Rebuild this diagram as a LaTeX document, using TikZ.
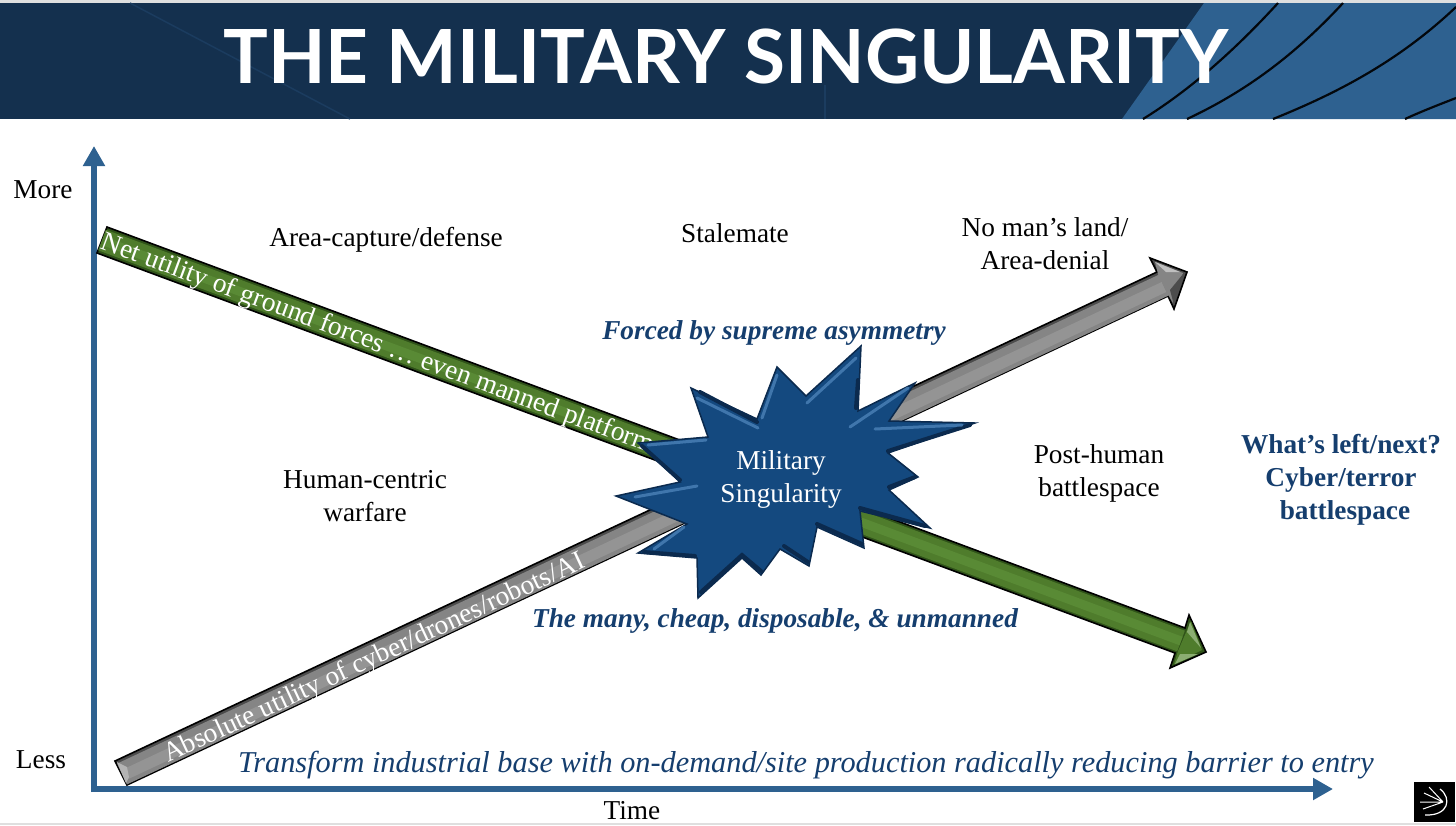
\documentclass[tikz,border=0pt]{standalone}
\usepackage{fontspec}
\setmainfont{Liberation Serif}
\newfontfamily\titlefont{Lato}
\usetikzlibrary{arrows.meta}
\definecolor{navy}{HTML}{14304E}
\definecolor{steel}{HTML}{2E6190}
\definecolor{inkblue}{HTML}{153E6E}
\definecolor{burst}{HTML}{14497F}
\definecolor{burstdark}{HTML}{0B2A4E}
\definecolor{burstlight}{HTML}{4F86BC}
\definecolor{leaf}{HTML}{4F7C2C}
\definecolor{leafdark}{HTML}{2F5219}
\definecolor{leaflight}{HTML}{598A35}
\definecolor{stone}{HTML}{858585}
\definecolor{stonedark}{HTML}{4C4C4C}
\definecolor{stonelight}{HTML}{949494}
\tikzstyle{axis} =[draw=steel, line width=6pt, -{Triangle[length=20pt,width=21pt]}]
\tikzstyle{plain} =[align=center, font=\fontsize{27.3}{33}\selectfont]
\tikzstyle{accent} =[align=center, text=inkblue, font=\fontsize{27.3}{33}\selectfont\bfseries\itshape]
\tikzstyle{onarrow} =[text=white, anchor=west, inner sep=0pt, font=\fontsize{27.4}{30}\selectfont]
\tikzstyle{arrowbody} =[draw=black, line width=1.6pt, line join=miter]
\tikzstyle{streak} =[draw=black!85!navy, line width=2.2pt]
\tikzstyle{spark} =[draw=burstlight, line width=3pt, line cap=round, opacity=.75]
\tikzstyle{shadowedge} =[draw=burstdark, line width=4pt, line cap=round]
\begin{document}
\begin{tikzpicture}[x=1pt, y=-1pt]
	\useasboundingbox (0,0) rectangle (1456,825);
	% banner
	\fill[gray!25] (0,0) rectangle (1456,3);
	\fill[gray!25] (0,823) rectangle (1456,825);
	\fill[navy] (0,3) rectangle (1456,119);
	\draw[navy!75!steel, line width=1.5pt] (130,3) -- (350,119);
	\draw[navy!75!steel, line width=1.5pt] (825,85) -- (825,119);
	\fill[steel] (1204,3) -- (1456,3) -- (1456,119) -- (1122,119) -- cycle;
	\draw[streak] (1278,3) .. controls (1235,50) and (1190,90) .. (1143,119);
	\draw[streak] (1343,3) .. controls (1295,55) and (1245,92) .. (1187,119);
	\draw[streak] (1456,7) .. controls (1400,60) and (1340,92) .. (1273,119);
	\draw[streak] (1456,98) .. controls (1438,105) and (1420,112) .. (1405,119);
	\node[text=white, font=\fontsize{74.7}{80}\selectfont\titlefont\bfseries] (title) at (726,56) {THE MILITARY SINGULARITY};
	% axes
	\coordinate (origin) at (95,789);
	\coordinate (yend) at (94,146);
	\coordinate (xend) at (1333,789);
	\draw[axis] (94,792) -- (yend);
	\draw[axis] (91,789) -- (xend);
	\node[plain] (more) at (43,190) {More};
	\node[plain] (less) at (41,760) {Less};
	\node[plain] (time) at (632,811) {Time};
	% grey arrow
	\filldraw[arrowbody, fill=stonedark] (115,761) -- (1157,272) -- (1150,258) -- (1187,272) -- (1174,309) -- (1168,296) -- (127,785) -- cycle;
	\draw[stone, line width=23pt] (122,774) -- (1164,285);
	\draw[stonelight, line width=11pt] (124,775) -- (1164,287);
	\fill[stone] (1155,262) -- (1183,273) -- (1173,303) -- (1166,291) -- (1158,274) -- cycle;
	\fill[stonelight!60!white] (1155,262) -- (1180,272) -- (1166,272) -- cycle;
	\fill[stonedark] (1183,274) -- (1174,305) -- (1170,290) -- cycle;
	\fill[stonelight!70!white] (117,762) -- (127,767) -- (129,777) -- (126,783) -- cycle;
	\node[onarrow, rotate=25.1] (graylabel) at (165,757) {Absolute utility of cyber/drones/robots/AI};
	% green arrow
	\filldraw[arrowbody, fill=leafdark] (107,227) -- (1185,628) -- (1189,615) -- (1206,652) -- (1170,668) -- (1175,653) -- (97,253) -- cycle;
	\draw[leaf, line width=22pt] (102,240) -- (1181,641);
	\draw[leaflight, line width=9pt] (104,241) -- (1181,641);
	\fill[leaf] (1191,621) -- (1202,650) -- (1174,664) -- (1178,651) -- (1187,630) -- cycle;
	\fill[leaflight!70!white] (1190,622) -- (1201,648) -- (1187,632) -- cycle;
	\fill[leaflight!70!white] (1175,664) -- (1198,654) -- (1180,654) -- cycle;
	\node[onarrow, rotate=-20.4] (greenlabel) at (102,242) {Net utility of ground forces \dots\ even manned platforms};
	% burst
	\filldraw[draw=burstdark, line width=1.5pt, fill=burst, line join=miter] (691,388) -- (757,419) -- (777,367) -- (806,396) -- (861,346) -- (858,411) -- (915,383) -- (889,421) -- (975,423) -- (888,453) -- (918,477) -- (889,490) -- (930,528) -- (860,511) -- (864,548) -- (817,527) -- (809,566) -- (780,549) -- (761,575) -- (742,558) -- (698,598) -- (697,558) -- (638,553) -- (687,524) -- (616,496) -- (680,482) -- (638,443) -- (708,437) -- cycle;
	\draw[shadowedge] (970,425) -- (888,451) (915,477) -- (889,487) (925,526) -- (860,508) (862,544) -- (817,524) (808,562) -- (784,546) (761,571) -- (742,555) -- (701,592) (695,556) -- (644,552) (858,380) -- (856,408) (700,392) -- (757,422) (642,446) -- (680,480);
	\draw[spark] (856,358) -- (807,403) (908,388) -- (850,427) (962,425) -- (875,429) (706,440) -- (648,445) (697,486) -- (635,497) (684,527) -- (654,549) (697,398) -- (758,428) (777,375) -- (762,418);
	\node[text=white, align=center, font=\fontsize{27.3}{33}\selectfont] (core) at (781,479) {Military\\Singularity};
	% labels
	\node[plain] (capture) at (386,240) {Area-capture/defense};
	\node[plain] (stalemate) at (735,233) {Stalemate};
	\node[plain] (denial) at (1045,244) {No man’s land/\\Area-denial};
	\node[plain] (human) at (365,496) {Human-centric\\warfare};
	\node[plain] (posthuman) at (1099,473) {Post-human\\battlespace};
	\node[accent] (forced) at (774,333) {Forced by supreme asymmetry};
	\node[accent] (many) at (775,621) {The many, cheap, disposable, \& unmanned};
	\node[align=center, text=inkblue, font=\fontsize{27.3}{33}\selectfont\bfseries] (whatnext) at (1341,480) {What’s left/next?\\Cyber/terror\\\hspace*{8pt}battlespace};
	\node[text=inkblue, font=\fontsize{30.3}{33}\selectfont\itshape] (base) at (806,765) {Transform industrial base with on-demand/site production radically reducing barrier to entry};
	% logo
	\fill[black] (1414,782) rectangle (1455,822);
	\draw[white, line width=1pt] (1443,802) -- (1429,787) (1443,802) -- (1424,793) (1443,802) -- (1420,802) (1443,802) -- (1423,809);
	\draw[white, line width=1.2pt] (1440,789) .. controls (1452,798) and (1449,816) .. (1425,815);
\end{tikzpicture}
\end{document}
